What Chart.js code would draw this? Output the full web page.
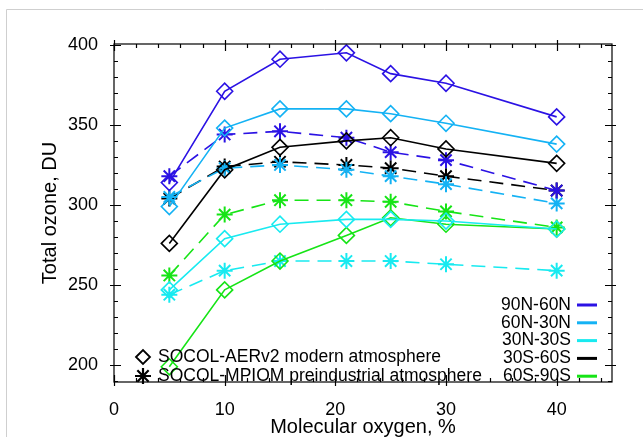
<!DOCTYPE html>
<html>
<head>
<meta charset="utf-8">
<script src="https://cdn.jsdelivr.net/npm/chart.js@4.4.0/dist/chart.umd.min.js"></script>
<style>
  html, body { margin: 0; padding: 0; background: #fff; }
  #wrap { width: 643px; height: 437px; }
</style>
</head>
<body>
<div id="wrap"><canvas id="chart" width="643" height="437"></canvas></div>
<script>
// --- data ---
const oxygen = [5, 10, 15, 21, 25, 30, 40];   // molecular oxygen, %
const regions = ['90N-60N', '60N-30N', '30N-30S', '30S-60S', '60S-90S'];

// SOCOL-AERv2 modern atmosphere (diamonds, solid)
const modern90N60N = [314, 371, 391, 395, 382, 376, 355];
const modern60N30N = [299, 348, 360, 360, 357, 351, 338];
const modern30N30S = [247, 279, 288, 291, 291, 290, 285];
const modern30S60S = [276, 322, 336, 340, 342, 335, 326];
const modern60S90S = [199, 247, 265, 281, 292, 288, 285];

// SOCOL-MPIOM preindustrial atmosphere (asterisks, dashed)
const preind90N60N = [318, 344, 346, 342, 333, 328, 309];
const preind60N30N = [305, 323, 325, 322, 318, 313, 301];
const preind30N30S = [244, 259, 265, 265, 265, 263, 259];
const preind30S60S = [304, 324, 327, 325, 323, 318, 309];
const preind60S90S = [256, 294, 303, 303, 302, 296, 286];

const xTicks = [0, 10, 20, 30, 40];
const yTicks = [200, 250, 300, 350, 400];

const modernLabel = 'SOCOL-AERv2 modern atmosphere';
const preindLabel = 'SOCOL-MPIOM preindustrial atmosphere';

// colours per region, same order as regions
const regionColors = ['#2b12e4', '#14b2f4', '#18eaf0', '#000000', '#16e416'];

const modernSets = [modern90N60N, modern60N30N, modern30N30S, modern30S60S, modern60S90S];
const preindSets = [preind90N60N, preind60N30N, preind30N30S, preind30S60S, preind60S90S];

function toPoints(vals) {
    return oxygen.map((x, i) => ({ x: x, y: vals[i] }));
}

const datasets = [];
regions.forEach((name, i) => {
    datasets.push({
        label: name + ' modern',
        data: toPoints(modernSets[i]),
        borderColor: regionColors[i],
        borderWidth: 1.6,
        pointStyle: 'rectRot',
        pointRadius: 8,
        pointBorderWidth: 1.6,
        pointBorderColor: regionColors[i],
        pointBackgroundColor: 'rgba(0,0,0,0)',
        fill: false,
        tension: 0,
        clip: false
    });
});
regions.forEach((name, i) => {
    datasets.push({
        label: name + ' preindustrial',
        data: toPoints(preindSets[i]),
        borderColor: regionColors[i],
        borderWidth: 1.6,
        borderDash: [14, 8],
        pointStyle: 'star',
        pointRadius: 8,
        pointBorderWidth: 2,
        pointBorderColor: regionColors[i],
        pointBackgroundColor: regionColors[i],
        fill: false,
        tension: 0,
        clip: false
    });
});

// box, inward ticks (IDL style) and both legends
const framePlugin = {
    id: 'frame',
    afterDraw(chart) {
        const ctx = chart.ctx;
        const a = chart.chartArea;
        const xs = chart.scales.x;
        const ys = chart.scales.y;
        ctx.save();

        // faint page frame
        ctx.strokeStyle = '#cfcfcf';
        ctx.lineWidth = 1;
        ctx.beginPath();
        ctx.moveTo(6.5, 437);
        ctx.lineTo(6.5, 9.5);
        ctx.lineTo(643, 9.5);
        ctx.stroke();

        // plot box
        ctx.strokeStyle = '#000';
        ctx.lineWidth = 1.2;
        ctx.strokeRect(a.left, a.top, a.right - a.left, a.bottom - a.top);

        ctx.beginPath();
        for (let v = 0; v <= xs.max; v += 2) {
            const px = Math.round(xs.getPixelForValue(v)) + 0.5;
            const major = v % 10 === 0;
            const len = major ? 7 : 4;
            ctx.moveTo(px, a.bottom + (major ? 4 : 0));
            ctx.lineTo(px, a.bottom - len);
            ctx.moveTo(px, a.top - (major ? 4 : 0));
            ctx.lineTo(px, a.top + len);
        }
        for (let v = 190; v <= ys.max; v += 10) {
            const py = Math.round(ys.getPixelForValue(v)) + 0.5;
            const major = v % 50 === 0;
            const len = major ? 7 : 4;
            ctx.moveTo(a.left - (major ? 4 : 0), py);
            ctx.lineTo(a.left + len, py);
            ctx.moveTo(a.right + (major ? 4 : 0), py);
            ctx.lineTo(a.right - len, py);
        }
        ctx.stroke();

        // left legend: hollow diamond and asterisk
        ctx.font = '17.5px "Liberation Sans", Arial, sans-serif';
        ctx.textBaseline = 'middle';
        ctx.textAlign = 'left';
        ctx.strokeStyle = '#000';
        ctx.fillStyle = 'rgba(0,0,0,0)';
        ctx.lineWidth = 1.8;
        Chart.helpers.drawPoint(ctx, { pointStyle: 'rectRot', radius: 7, rotation: 0, borderWidth: 1.8 }, 143, 357);
        ctx.lineWidth = 2.2;
        Chart.helpers.drawPoint(ctx, { pointStyle: 'star', radius: 8, rotation: 0, borderWidth: 2.2 }, 143, 376);
        ctx.fillStyle = '#000';
        ctx.fillText(modernLabel, 158, 357);
        ctx.fillText(preindLabel, 158, 376);

        // right legend: regions
        ctx.textAlign = 'right';
        regions.forEach((name, i) => {
            const y = 305 + i * 17.8;
            ctx.fillStyle = '#000';
            ctx.fillText(name, 571, y);
            ctx.strokeStyle = regionColors[i];
            ctx.lineWidth = 3;
            ctx.beginPath();
            ctx.moveTo(577, y);
            ctx.lineTo(597, y);
            ctx.stroke();
        });

        ctx.restore();
    }
};

const tickFont = { family: '"Liberation Sans", Arial, sans-serif', size: 18 };
const titleFont = { family: '"Liberation Sans", Arial, sans-serif', size: 20 };

new Chart(document.getElementById('chart'), {
    type: 'line',
    data: { datasets: datasets },
    options: {
        responsive: false,
        animation: false,
        devicePixelRatio: 1,
        layout: { padding: { top: 44, right: 31, left: 0, bottom: 0 } },
        plugins: {
            legend: { display: false },
            tooltip: { enabled: false }
        },
        scales: {
            x: {
                type: 'linear',
                min: 0,
                max: 45,
                grid: { display: false },
                border: { display: false },
                ticks: { color: '#000', font: tickFont, padding: 9, maxRotation: 0 },
                afterBuildTicks: s => { s.ticks = xTicks.map(v => ({ value: v })); },
                afterFit: s => { s.height = 55; },
                title: {
                    display: true,
                    text: 'Molecular oxygen, %',
                    color: '#000',
                    font: titleFont,
                    padding: { top: 0, bottom: -2 }
                }
            },
            y: {
                type: 'linear',
                min: 189.5,
                max: 400.5,
                grid: { display: false },
                border: { display: false },
                ticks: { color: '#000', font: tickFont, padding: 8 },
                afterBuildTicks: s => { s.ticks = yTicks.map(v => ({ value: v })); },
                afterFit: s => { s.width = 114; },
                title: {
                    display: true,
                    text: 'Total ozone, DU',
                    color: '#000',
                    font: titleFont,
                    padding: { top: 38, bottom: 0 }
                }
            }
        }
    },
    plugins: [framePlugin]
});
</script>
</body>
</html>
